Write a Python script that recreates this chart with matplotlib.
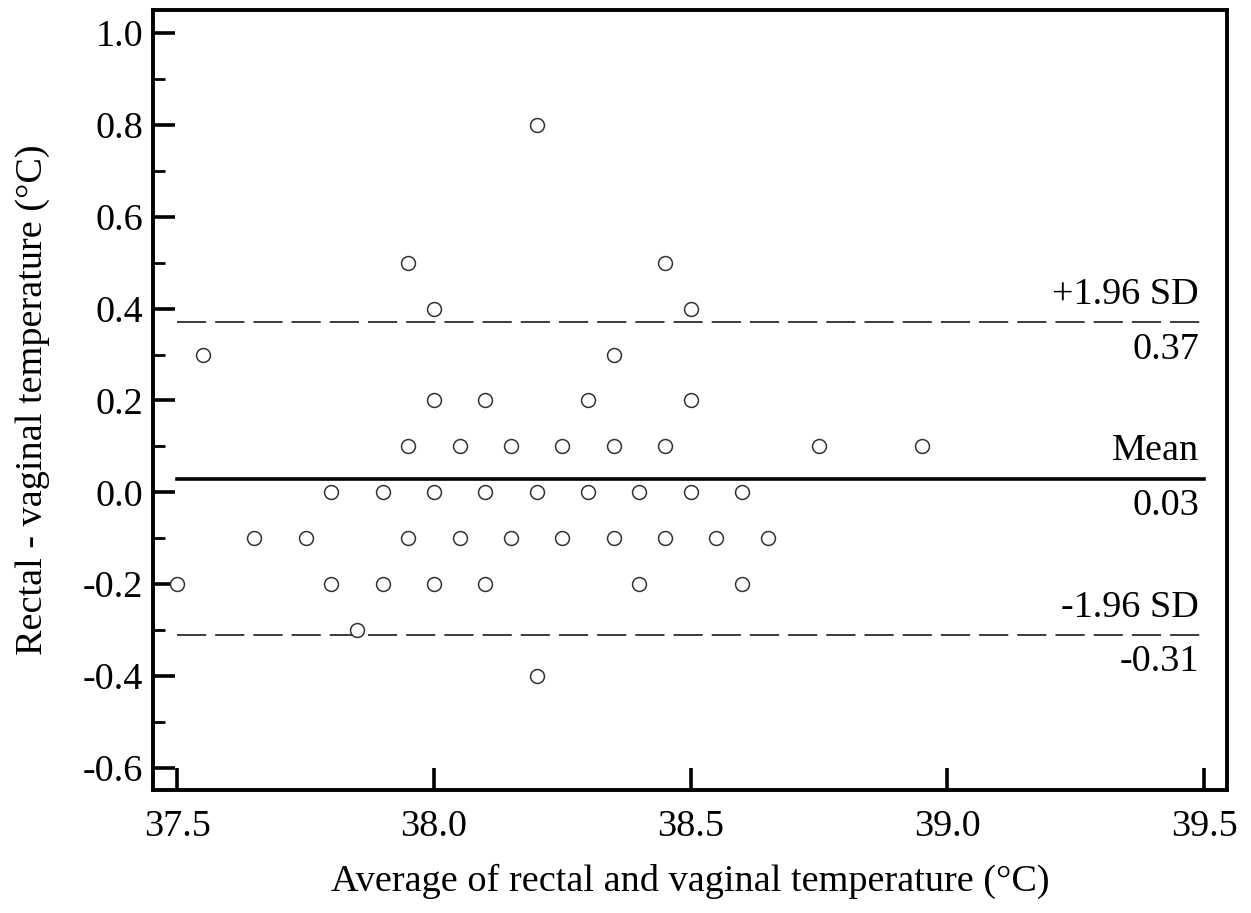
import matplotlib
matplotlib.use("Agg")
import matplotlib.pyplot as plt
from matplotlib.ticker import MultipleLocator

# Bland-Altman data: average vs difference (rectal - vaginal)
avg_temp = [37.50, 37.55, 37.65, 37.75, 37.80, 37.80, 37.85, 37.90, 37.90,
            37.95, 37.95, 37.95, 38.00, 38.00, 38.00, 38.00, 38.05, 38.05,
            38.10, 38.10, 38.10, 38.15, 38.15, 38.20, 38.20, 38.20, 38.25,
            38.25, 38.30, 38.30, 38.35, 38.35, 38.35, 38.40, 38.40, 38.45,
            38.45, 38.45, 38.50, 38.50, 38.50, 38.55, 38.60, 38.60, 38.65,
            38.75, 38.95]
diff_temp = [-0.2, 0.3, -0.1, -0.1, 0.0, -0.2, -0.3, 0.0, -0.2,
             0.5, 0.1, -0.1, 0.4, 0.2, 0.0, -0.2, 0.1, -0.1,
             0.2, 0.0, -0.2, 0.1, -0.1, 0.8, 0.0, -0.4, 0.1,
             -0.1, 0.2, 0.0, 0.3, 0.1, -0.1, 0.0, -0.2, 0.5,
             0.1, -0.1, 0.4, 0.2, 0.0, -0.1, 0.0, -0.2, -0.1,
             0.1, 0.1]

mean_diff = 0.03
upper_loa = 0.37
lower_loa = -0.31
line_x = [37.5, 39.5]


def main():
    plt.rcParams["font.family"] = ["Liberation Serif", "DejaVu Serif"]
    plt.rcParams["axes.unicode_minus"] = False
    plt.rcParams["lines.scale_dashes"] = False
    fs = 27.5

    fig = plt.figure(figsize=(12.51, 9.13), dpi=100)
    ax = fig.add_axes([0.1223, 0.1347, 0.981 - 0.1223, 0.989 - 0.1347])

    ax.scatter(avg_temp, diff_temp, s=100, facecolors="white",
               edgecolors="#333333", linewidths=1.1, zorder=3)

    ax.plot(line_x, [mean_diff, mean_diff], color="black", lw=2.6, zorder=2)
    for v in (upper_loa, lower_loa):
        ax.plot(line_x, [v, v], color="#1a1a1a", lw=1.2,
                dashes=(21, 6.5), zorder=2)

    tx = 39.49
    off = 0.022
    ax.text(tx, upper_loa + off, "+1.96 SD", ha="right", va="bottom", fontsize=fs)
    ax.text(tx, upper_loa - off, f"{upper_loa:.2f}", ha="right", va="top", fontsize=fs)
    ax.text(tx, mean_diff + off, "Mean", ha="right", va="bottom", fontsize=fs)
    ax.text(tx, mean_diff - off, f"{mean_diff:.2f}", ha="right", va="top", fontsize=fs)
    ax.text(tx, lower_loa + off, "-1.96 SD", ha="right", va="bottom", fontsize=fs)
    ax.text(tx, lower_loa - off, f"{lower_loa:.2f}", ha="right", va="top", fontsize=fs)

    ax.set_xlim(37.453, 39.545)
    ax.set_ylim(-0.648, 1.05)
    ax.xaxis.set_major_locator(MultipleLocator(0.5))
    ax.yaxis.set_major_locator(MultipleLocator(0.2))
    ax.yaxis.set_minor_locator(MultipleLocator(0.1))
    ax.xaxis.set_major_formatter(plt.FormatStrFormatter("%.1f"))
    ax.yaxis.set_major_formatter(plt.FormatStrFormatter("%.1f"))

    ax.tick_params(which="major", direction="in", length=16, width=2.6,
                   labelsize=fs, top=False, right=False)
    ax.tick_params(which="minor", direction="in", length=8.5, width=2.0,
                   top=False, right=False)
    ax.tick_params(axis="y", pad=7)
    ax.tick_params(axis="x", pad=14)
    for sp in ax.spines.values():
        sp.set_linewidth(2.8)

    ax.set_xlabel("Average of rectal and vaginal temperature (\u00b0C)", fontsize=fs, labelpad=14)
    ax.set_ylabel("Rectal - vaginal temperature (\u00b0C)", fontsize=fs, labelpad=24)

    fig.savefig("out.png", dpi=100)


if __name__ == '__main__':
    main()
